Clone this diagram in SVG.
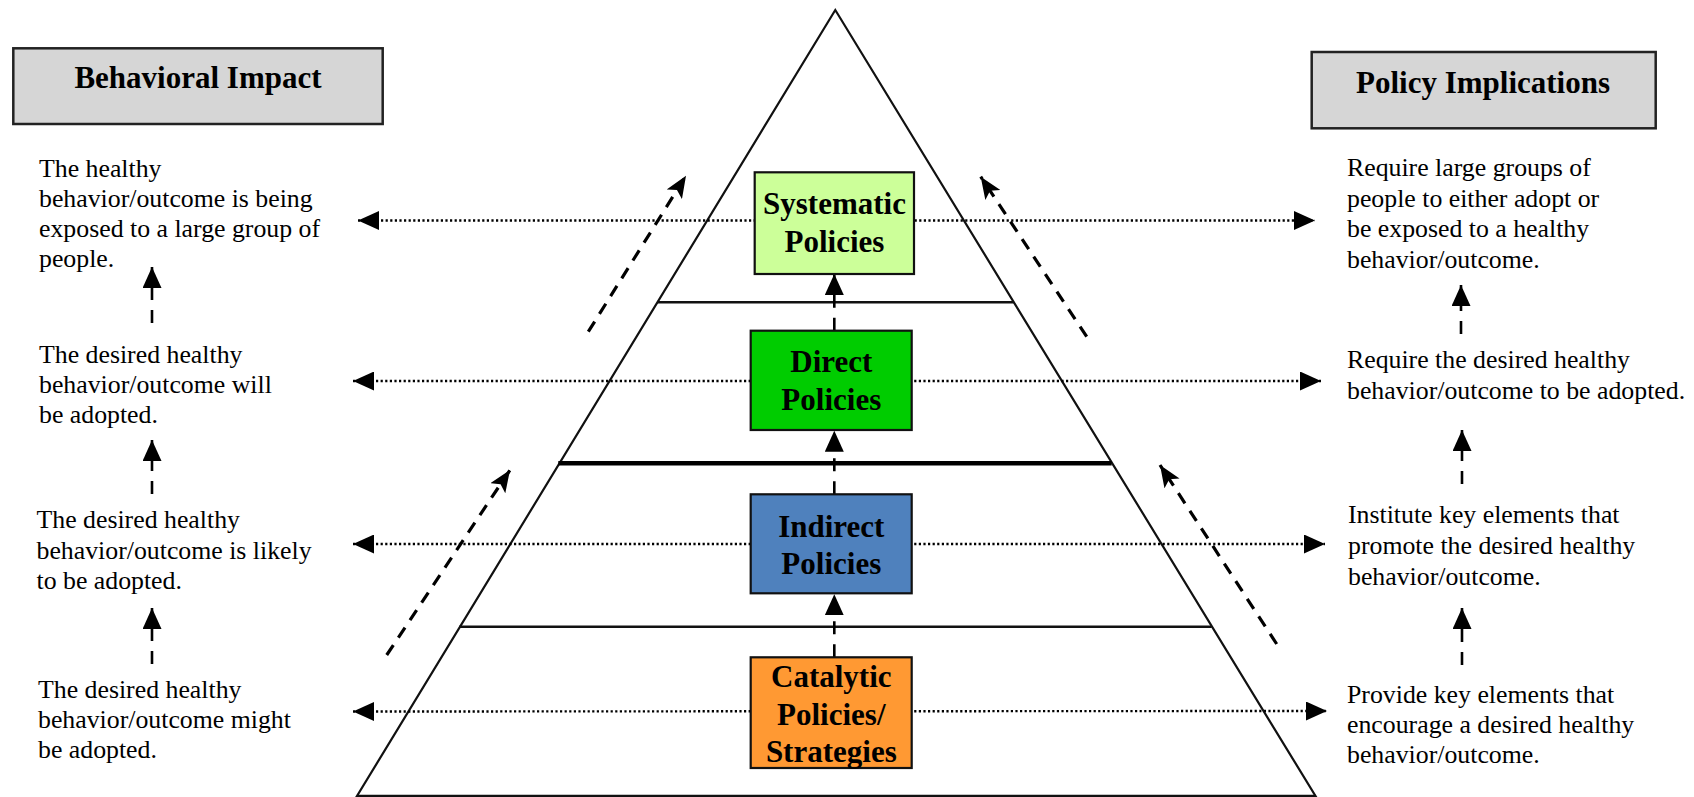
<svg xmlns="http://www.w3.org/2000/svg" width="1694" height="797" viewBox="0 0 1694 797">
<style>
.t{font-family:"Liberation Serif","Times New Roman",serif;font-size:25.8px;fill:#000}
.h{font-family:"Liberation Serif","Times New Roman",serif;font-size:31px;font-weight:bold;fill:#000;text-anchor:middle}
.c{font-family:"Liberation Serif","Times New Roman",serif;font-size:31px;font-weight:bold;fill:#000;text-anchor:middle}
.hdr{fill:#d6d6d6;stroke:#222;stroke-width:2.5}
.box{stroke:#111;stroke-width:2.2}
.tri{fill:none;stroke:#111;stroke-width:2.2}
.dot{fill:none;stroke:#000;stroke-width:2.4;stroke-dasharray:2.2 2.4}
.dash{fill:none;stroke:#000;stroke-width:2.6;stroke-dasharray:13 10}
.diag{fill:none;stroke:#000;stroke-width:3.2;stroke-dasharray:12 9}
</style>
<defs>
<marker id="ah" viewBox="0 0 21 19" refX="21" refY="9.5" markerWidth="21" markerHeight="19" markerUnits="userSpaceOnUse" orient="auto-start-reverse"><path d="M0,0 L21,9.5 L0,19 z" fill="#000"/></marker>
<marker id="ahd" viewBox="0 0 22 18" refX="22" refY="9" markerWidth="22" markerHeight="18" markerUnits="userSpaceOnUse" orient="auto"><path d="M0,0 L22,9 L0,18 L5,9 z" fill="#000"/></marker>
</defs>
<rect width="1694" height="797" fill="#fff"/>

<g id="pyramid">
<polygon class="tri" points="835.3,10 357,796 1315.5,796"/>
<line x1="657" y1="302.3" x2="1013.5" y2="302.3" stroke="#111" stroke-width="2.5"/>
<line x1="558.3" y1="463.3" x2="1111.7" y2="463.3" stroke="#000" stroke-width="4.5"/>
<line x1="459.3" y1="626.7" x2="1211.7" y2="626.7" stroke="#111" stroke-width="2.5"/>
<line x1="357" y1="796" x2="1315.5" y2="796" stroke="#111" stroke-width="2.5"/>
</g>

<g id="connectors">
<line class="dot" x1="358" y1="220.5" x2="1315" y2="220.5" marker-start="url(#ah)" marker-end="url(#ah)"/>
<line class="dot" x1="353" y1="381" x2="1321" y2="381" marker-start="url(#ah)" marker-end="url(#ah)"/>
<line class="dot" x1="353" y1="544" x2="1325" y2="544" marker-start="url(#ah)" marker-end="url(#ah)"/>
<line class="dot" x1="353" y1="711.5" x2="1327" y2="711" marker-start="url(#ah)" marker-end="url(#ah)"/>
<line class="dash" x1="152" y1="323" x2="152" y2="267" marker-end="url(#ah)"/>
<line class="dash" x1="152" y1="494" x2="152" y2="440" marker-end="url(#ah)"/>
<line class="dash" x1="152" y1="664" x2="152" y2="608" marker-end="url(#ah)"/>
<line class="dash" x1="1461" y1="334" x2="1461" y2="285" marker-end="url(#ah)"/>
<line class="dash" x1="1462" y1="484" x2="1462" y2="430" marker-end="url(#ah)"/>
<line class="dash" x1="1462" y1="665" x2="1462" y2="608" marker-end="url(#ah)"/>
<line class="dash" x1="834.3" y1="330.7" x2="834.3" y2="274" marker-end="url(#ah)"/>
<line class="dash" x1="834.3" y1="494.3" x2="834.3" y2="430.7" marker-end="url(#ah)"/>
<line class="dash" x1="834.3" y1="657.3" x2="834.3" y2="594.3" marker-end="url(#ah)"/>
<line class="diag" x1="588.3" y1="331.7" x2="686" y2="175.7" marker-end="url(#ahd)"/>
<line class="diag" x1="386.7" y1="655" x2="510" y2="470" marker-end="url(#ahd)"/>
<line class="diag" x1="1086.7" y1="336.7" x2="980.7" y2="176.7" marker-end="url(#ahd)"/>
<line class="diag" x1="1276.7" y1="644" x2="1160" y2="465" marker-end="url(#ahd)"/>
</g>

<g id="header-behavioral">
<rect class="hdr" x="13.3" y="48.3" width="369.4" height="75.7"/>
<text class="h" x="198" y="88.3">Behavioral Impact</text>
</g>
<g id="header-policy">
<rect class="hdr" x="1311.7" y="52" width="344" height="76.3"/>
<text class="h" x="1483" y="93.3">Policy Implications</text>
</g>

<g id="node-systematic">
<rect class="box" x="754.7" y="172.3" width="159.3" height="101.7" fill="#ccff99"/>
<text class="c" x="834.5" y="214">Systematic</text>
<text class="c" x="834.5" y="252.3">Policies</text>
</g>
<g id="node-direct">
<rect class="box" x="750.7" y="330.7" width="161" height="99.3" fill="#00cc00"/>
<text class="c" x="831.3" y="372.3">Direct</text>
<text class="c" x="831.3" y="410">Policies</text>
</g>
<g id="node-indirect">
<rect class="box" x="750.7" y="494.3" width="161" height="99" fill="#4f81bd"/>
<text class="c" x="831.3" y="536.7">Indirect</text>
<text class="c" x="831.3" y="574">Policies</text>
</g>
<g id="node-catalytic">
<rect class="box" x="750.7" y="657.3" width="161" height="110.7" fill="#ff9933"/>
<text class="c" x="831.3" y="686.7">Catalytic</text>
<text class="c" x="831.3" y="725">Policies/</text>
<text class="c" x="831.3" y="761.7">Strategies</text>
</g>

<g id="impact-1">
<text class="t" x="39" y="177">The healthy</text>
<text class="t" x="39" y="207">behavior/outcome is being</text>
<text class="t" x="39" y="237">exposed to a large group of</text>
<text class="t" x="39" y="267">people.</text>
</g>
<g id="impact-2">
<text class="t" x="39" y="363.3">The desired healthy</text>
<text class="t" x="39" y="393.3">behavior/outcome will</text>
<text class="t" x="39" y="423.3">be adopted.</text>
</g>
<g id="impact-3">
<text class="t" x="36.5" y="528.3">The desired healthy</text>
<text class="t" x="36.5" y="558.5">behavior/outcome is likely</text>
<text class="t" x="36.5" y="589">to be adopted.</text>
</g>
<g id="impact-4">
<text class="t" x="38" y="698.3">The desired healthy</text>
<text class="t" x="38" y="728.3">behavior/outcome might</text>
<text class="t" x="38" y="758.3">be adopted.</text>
</g>

<g id="policy-1">
<text class="t" x="1347" y="176">Require large groups of</text>
<text class="t" x="1347" y="206.5">people to either adopt or</text>
<text class="t" x="1347" y="237">be exposed to a healthy</text>
<text class="t" x="1347" y="267.5">behavior/outcome.</text>
</g>
<g id="policy-2">
<text class="t" x="1347" y="368.3">Require the desired healthy</text>
<text class="t" x="1347" y="398.8">behavior/outcome to be adopted.</text>
</g>
<g id="policy-3">
<text class="t" x="1348" y="523.3">Institute key elements that</text>
<text class="t" x="1348" y="554.3">promote the desired healthy</text>
<text class="t" x="1348" y="585.3">behavior/outcome.</text>
</g>
<g id="policy-4">
<text class="t" x="1347" y="703.3">Provide key elements that</text>
<text class="t" x="1347" y="733.3">encourage a desired healthy</text>
<text class="t" x="1347" y="763.3">behavior/outcome.</text>
</g>
</svg>
